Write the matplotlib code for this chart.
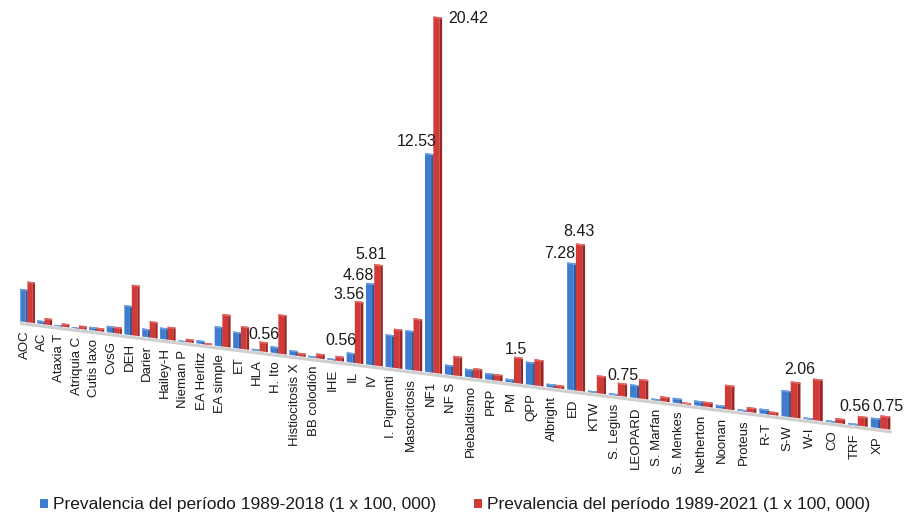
import numpy as np
import matplotlib
matplotlib.use("Agg")
import matplotlib.pyplot as plt
from matplotlib.transforms import Affine2D
from matplotlib.patches import Patch

plt.rcParams['font.family'] = ['Liberation Sans', 'DejaVu Sans']

# ---- data ---------------------------------------------------------------
categories = ["AOC", "AC", "Ataxia T", "Atriquia C", "Cutis laxo", "CvsG", "DEH",
              "Darier", "Hailey-H", "Nieman P", "EA Herlitz", "EA simple", "ET",
              "HLA", "H. Ito", "Histiocitosis X", "BB colodión", "IHE", "IL", "IV",
              "I. Pigmenti", "Mastocitosis", "NF1", "NF S", "Piebaldismo", "PRP",
              "PM", "QPP", "Albright", "ED", "KTW", "S. Legius", "LEOPARD",
              "S. Marfan", "S. Menkes", "Netherton", "Noonan", "Proteus", "R-T",
              "S-W", "W-I", "CO", "TRF", "XP"]

prev_2018 = [1.87, 0.19, 0.05, 0.05, 0.19, 0.37, 1.68, 0.47, 0.65, 0.05, 0.19,
             1.12, 0.94, 0.09, 0.37, 0.28, 0.09, 0.09, 0.56, 4.68, 1.87, 2.25,
             12.53, 0.56, 0.47, 0.37, 0.19, 1.31, 0.19, 7.28, 0.09, 0.09, 0.75,
             0.09, 0.28, 0.28, 0.19, 0.09, 0.28, 1.50, 0.09, 0.09, 0.09, 0.56]

prev_2021 = [2.34, 0.37, 0.19, 0.19, 0.19, 0.37, 2.90, 0.94, 0.75, 0.19, 0.09,
             1.87, 1.31, 0.56, 2.25, 0.19, 0.28, 0.28, 3.56, 5.81, 2.25, 2.99,
             20.42, 1.12, 0.56, 0.37, 1.50, 1.50, 0.19, 8.43, 1.03, 0.75, 1.12,
             0.28, 0.09, 0.28, 1.40, 0.28, 0.19, 2.06, 2.38, 0.28, 0.56, 0.75]

series_names = ["Prevalencia del período 1989-2018 (1 x 100, 000)",
                "Prevalencia del período 1989-2021 (1 x 100, 000)"]

# bars that carry a value label: (category, series index)
labelled = [("HLA", 1), ("IL", 0), ("IL", 1), ("IV", 0), ("IV", 1), ("NF1", 0),
            ("NF1", 1), ("PM", 1), ("ED", 0), ("ED", 1), ("S. Legius", 1),
            ("S-W", 1), ("TRF", 1), ("XP", 1)]

# ---- style ----------------------------------------------------------------
W, H = 907, 517
PX_PER_UNIT = 17.45         # vertical pixels per prevalence unit
FLOOR_Y = H - 321.3         # display y of the floor front edge at the left end
X_LEFT, X_RIGHT = 19.5, 892.4
FLOOR_SLOPE_DEG = 7.09      # the floor recedes downward to the right
PERSP_B, PERSP_C = 17.0, 0.066   # category spacing widens toward the viewer

FRONT = ['#3d7cd1', '#d23a38']
SIDE = ['#2a5a9c', '#9a2523']
TOP = ['#6b9fe0', '#e06a66']
BAR_LEFT = [-0.45, -0.03]
BAR_W = 0.44
FRONT_FRAC = 0.7
CAP = 0.09                  # height of the lighter top cap, in value units

# label nudges in pixels (dx, dy from bar top)
label_nudge = {("HLA", 1): (0, 7), ("IL", 0): (-10, 12), ("IL", 1): (-10, 7),
               ("IV", 0): (-12, 8), ("IV", 1): (-8, 10), ("NF1", 0): (-13, 12),
               ("NF1", 1): (30, -2), ("PM", 1): (-3, 8), ("ED", 0): (-12, 9),
               ("ED", 1): (-2, 12), ("S. Legius", 1): (0, 8), ("S-W", 1): (4, 12),
               ("TRF", 1): (-8, 10), ("XP", 1): (3, 9)}

TEXT = '#1a1a1a'

# ---- figure -----------------------------------------------------------------
fig = plt.figure(figsize=(W / 100, H / 100), dpi=100)
ax = fig.add_axes([X_LEFT / W, 0, (X_RIGHT - X_LEFT) / W, 1])


def persp_fwd(i):
    i = np.asarray(i, dtype=float)
    return PERSP_B * i + PERSP_C * i * i


def persp_inv(p):
    p = np.asarray(p, dtype=float)
    return (-PERSP_B + np.sqrt(np.maximum(PERSP_B ** 2 + 4 * PERSP_C * p, 0))) / (2 * PERSP_C)


ax.set_xscale('function', functions=(persp_fwd, persp_inv))
ax.set_xlim(-0.5, len(categories) - 0.5)
ax.set_ylim(-FLOOR_Y / PX_PER_UNIT, (H - FLOOR_Y) / PX_PER_UNIT)
ax.axis('off')

# sloped floor: shear display y by x around the floor's left end
floor_tr = ax.transData + (Affine2D().translate(-X_LEFT, -FLOOR_Y)
                           .skew_deg(0, -FLOOR_SLOPE_DEG)
                           .translate(X_LEFT, FLOOR_Y))

idx = np.arange(len(categories))

ax.plot([-0.58, len(categories) - 0.42], [-0.12, -0.12], transform=floor_tr,
        color='#cfcfcf', lw=2.2, solid_capstyle='butt', zorder=1)

for s, vals in enumerate([prev_2018, prev_2021]):
    vals = np.asarray(vals)
    left = idx + BAR_LEFT[s]
    ax.bar(left, vals, width=BAR_W * FRONT_FRAC, align='edge', color=FRONT[s],
           linewidth=0, transform=floor_tr, zorder=2 + s)
    ax.bar(left + BAR_W * FRONT_FRAC, vals, width=BAR_W * (1 - FRONT_FRAC),
           align='edge', color=SIDE[s], linewidth=0, transform=floor_tr,
           zorder=2 + s)
    cap = np.minimum(vals, CAP)
    ax.bar(left, cap, bottom=vals - cap, width=BAR_W, align='edge',
           color=TOP[s], linewidth=0, transform=floor_tr, zorder=2 + s)

# category names hanging under the floor
for i, name in enumerate(categories):
    ax.text(i - 0.16, -0.46, name, rotation=90, ha='center', va='top',
            fontsize=9.5, color=TEXT, transform=floor_tr)

# value labels
series = [prev_2018, prev_2021]
for cat, s in labelled:
    i = categories.index(cat)
    v = series[s][i]
    xbar = i + BAR_LEFT[s] + BAR_W / 2
    dx, dy = label_nudge[(cat, s)]
    ax.annotate(f"{v:g}", xy=(xbar, v), xycoords=floor_tr, xytext=(dx, dy),
                textcoords='offset pixels', ha='center', va='center',
                fontsize=11.5, color=TEXT, zorder=5)

handles = [Patch(facecolor=FRONT[0]), Patch(facecolor=FRONT[1])]
fig.legend(handles, series_names, loc='center left',
           bbox_to_anchor=(40 / W, 1 - 505 / H), ncol=2, frameon=False,
           fontsize=12.5, handlelength=0.45, handleheight=0.45,
           handletextpad=0.3, columnspacing=2.2, borderpad=0, borderaxespad=0,
           labelcolor=TEXT)

fig.savefig('out.png', dpi=100)
